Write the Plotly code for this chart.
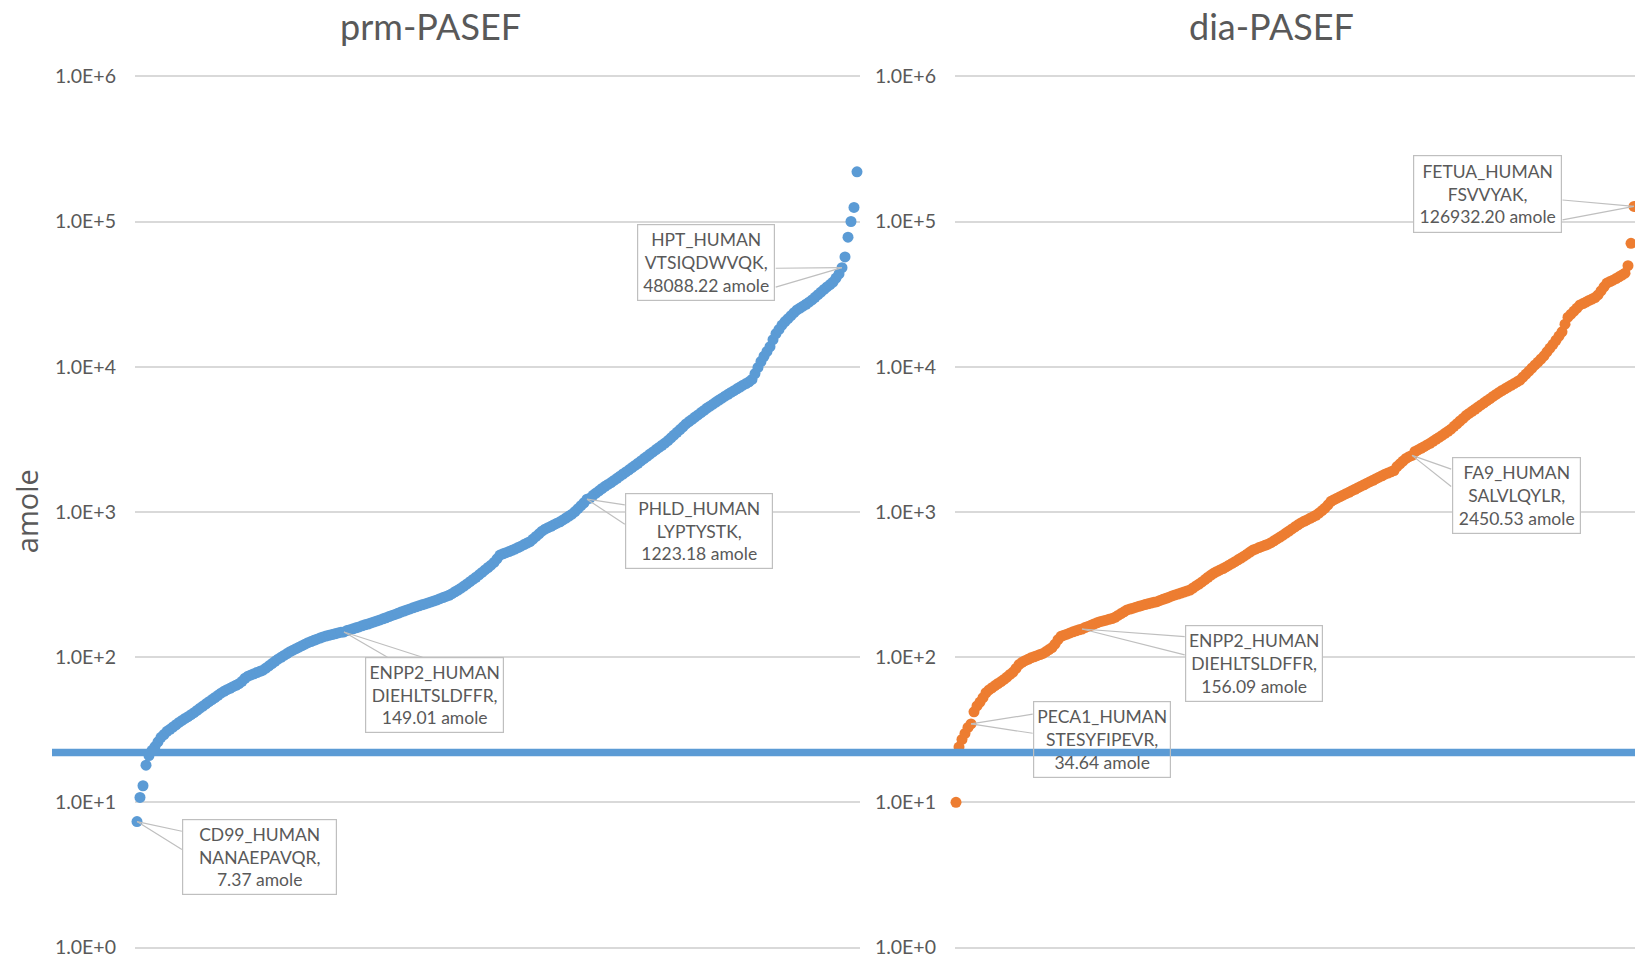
import math
import plotly.graph_objects as go

# ---------------- data ----------------
LEFT_TITLE = "prm-PASEF"
RIGHT_TITLE = "dia-PASEF"
Y_TITLE = "amole"
TICK_VALUES = [1, 10, 100, 1000, 10000, 100000, 1000000]
TICK_LABELS = ["1.0E+0", "1.0E+1", "1.0E+2", "1.0E+3", "1.0E+4", "1.0E+5", "1.0E+6"]
THRESHOLD_AMOLE = 22

# prm-PASEF, ranked peptide amounts (amole)
PRM_AMOLE = [
    7.37, 10.8, 13.0, 18.0, 21.0, 22.8, 24.2, 26.1, 28.0, 29.3,
    30.8, 31.8, 33.0, 34.2, 35.5, 36.6, 37.8, 38.9, 40.1, 41.4,
    42.9, 44.5, 46.0, 47.7, 49.3, 51.0, 52.7, 54.5, 56.4, 58.1,
    59.6, 61.0, 62.5, 64.0, 65.6, 68.1, 71.5, 73.9, 75.4, 76.8,
    78.3, 79.8, 81.3, 84.1, 87.1, 90.3, 93.6, 96.8, 99.6, 102.6,
    105.7, 108.9, 111.5, 114.2, 117.0, 119.9, 122.7, 125.6, 128.0, 130.4,
    132.8, 135.3, 137.8, 139.6, 141.3, 143.0, 144.7, 146.6, 148.3, 149.01,
    152.4, 154.5, 156.7, 159.2, 161.4, 164.1, 166.7, 169.0, 171.8, 174.6,
    177.4, 180.3, 183.6, 186.6, 190.1, 193.6, 196.8, 200.4, 204.2, 207.5,
    211.3, 214.8, 218.3, 221.8, 225.4, 229.1, 232.3, 236.0, 239.9, 243.8,
    247.7, 252.4, 257.0, 261.8, 266.7, 273.5, 281.8, 289.7, 298.5, 308.3,
    319.2, 330.4, 342.8, 354.8, 368.9, 382.8, 398.1, 414.0, 429.5, 448.7,
    475.3, 504.7, 514.0, 523.6, 533.3, 543.3, 554.6, 567.5, 580.8, 595.7,
    609.5, 623.7, 650.1, 677.6, 706.3, 736.2, 760.3, 778.0, 796.2, 816.6,
    835.6, 855.1, 881.0, 907.8, 935.4, 963.8, 1004.6, 1052, 1104, 1156,
    1223.18, 1242, 1300, 1349, 1396, 1449, 1500, 1545, 1592, 1648,
    1702, 1762, 1824, 1884, 1950, 2018, 2089, 2163, 2244, 2328,
    2410, 2500, 2588, 2685, 2780, 2877, 2979, 3097, 3236, 3381,
    3532, 3690, 3855, 4036, 4188, 4335, 4498, 4656, 4831, 5000,
    5188, 5346, 5521, 5702, 5888, 6067, 6266, 6457, 6653, 6839,
    7047, 7244, 7464, 7656, 7870, 8166, 8974, 9886, 10860, 11800,
    12740, 13740, 15350, 16900, 18070, 19360, 20460, 21430, 22440, 23550,
    24600, 25350, 26120, 26920, 27800, 28840, 30060, 31330, 32660, 34040,
    35400, 36810, 38280, 40740, 43550, 48088.22, 57000, 78000, 100000, 125000,
    220000,
]

# dia-PASEF, ranked peptide amounts (amole)
DIA_AMOLE = [
    10.0, 24.0, 27.1, 29.8, 32.8, 34.64, 42.0, 46.1, 49.0, 52.5,
    56.8, 59.4, 61.5, 63.7, 65.8, 67.8, 70.2, 72.9, 75.9, 78.9,
    83.6, 88.7, 92.0, 94.4, 96.6, 98.8, 100.5, 102.3, 104.2, 105.9,
    109.2, 112.7, 116.4, 122.7, 131.8, 139.0, 141.6, 143.9, 146.6, 149.3,
    151.7, 154.2, 156.09, 159.6, 162.6, 165.6, 169.0, 172.2, 175.4, 177.4,
    179.5, 182.0, 184.1, 187.9, 193.6, 199.5, 205.1, 211.3, 214.3, 217.3,
    220.8, 223.9, 227.0, 230.1, 232.8, 235.5, 238.2, 241.0, 245.5, 250.0,
    254.1, 258.8, 263.6, 267.9, 271.6, 276.1, 280.5, 285.1, 289.7, 299.2,
    309.0, 318.4, 329.6, 342.0, 354.8, 367.3, 379.3, 389.0, 398.1, 407.4,
    417.8, 429.5, 441.6, 453.9, 467.7, 480.8, 495.5, 511.7, 528.4, 545.8,
    555.9, 567.5, 578.1, 588.8, 599.8, 613.8, 632.4, 651.6, 671.4, 691.8,
    714.5, 737.9, 763.8, 788.9, 814.7, 839.5, 861.0, 881.0, 903.6, 924.7,
    948.4, 981.7, 1021, 1062, 1119, 1183, 1213, 1242, 1274, 1303,
    1334, 1365, 1400, 1432, 1469, 1503, 1538, 1578, 1614, 1652,
    1694, 1734, 1774, 1820, 1853, 1888, 1928, 2051, 2143, 2239,
    2333, 2400, 2450.53, 2606, 2673, 2742, 2812, 2891, 2965, 3062,
    3162, 3258, 3365, 3475, 3589, 3715, 3882, 4046, 4227, 4406,
    4603, 4764, 4932, 5093, 5272, 5458, 5636, 5834, 6026, 6237,
    6442, 6653, 6855, 7047, 7244, 7447, 7656, 7870, 8091, 8492,
    8892, 9333, 9795, 10280, 10770, 11300, 11890, 12650, 13430, 14260,
    15210, 16250, 17380, 19630, 21930, 23010, 24150, 25350, 26610, 27230,
    27860, 28580, 29240, 29920, 31190, 33270, 35480, 37670, 38550, 39450,
    40460, 41590, 42760, 44060, 49660, 70800, 126932.20,
]

# labelled peptides
CALLOUT_SERIES = ["prm", "prm", "prm", "prm", "dia", "dia", "dia", "dia"]
CALLOUT_RANK = [0, 69, 150, 235, 5, 42, 152, 226]
CALLOUT_PROTEIN = ["CD99_HUMAN", "ENPP2_HUMAN", "PHLD_HUMAN", "HPT_HUMAN",
                   "PECA1_HUMAN", "ENPP2_HUMAN", "FA9_HUMAN", "FETUA_HUMAN"]
CALLOUT_PEPTIDE = ["NANAEPAVQR", "DIEHLTSLDFFR", "LYPTYSTK", "VTSIQDWVQK",
                   "STESYFIPEVR", "DIEHLTSLDFFR", "SALVLQYLR", "FSVVYAK"]

# ---------------- styling / layout ----------------
W, H = 1635, 957
FONT = "Lato, 'Open Sans', sans-serif"
TXT = "#595959"
BLUE = "#5B9BD5"
ORANGE = "#ED7D31"
GRID = "#D9D9D9"
CALL_LINE = "#BFBFBF"

# box centre offset (px), box size (px), wedge base points (px) for each callout
CALLOUT_GEOM = [
    dict(box=(122.9, 35.8), size=(155, 76), wedge=[(45.4, 9.8), (45.4, 28.2)]),
    dict(box=(90.7, 63.5), size=(139, 76), wedge=[(44, 25.5), (79, 25.5)]),
    dict(box=(112.3, 32.0), size=(148, 76), wedge=[(38.3, 5.8), (38.3, 25.5)]),
    dict(box=(-135.8, -5.3), size=(138, 77), wedge=[(-66.8, 0.6), (-66.8, 19.6)]),
    dict(box=(131.2, 15.3), size=(138, 77), wedge=[(62.2, -9.9), (62.2, 9.4)]),
    dict(box=(172.2, 34.0), size=(138, 77), wedge=[(103.2, 7.7), (103.2, 26.0)]),
    dict(box=(104.2, 39.8), size=(129, 77), wedge=[(39.7, 13.9), (39.7, 31.6)]),
    dict(box=(-146.5, -12.6), size=(149, 78), wedge=[(-72.0, -6.5), (-72.0, 13.5)]),
]

fig = go.Figure()
fig.add_trace(go.Scatter(
    x=list(range(len(PRM_AMOLE))), y=PRM_AMOLE, mode="markers",
    marker=dict(size=11, color=BLUE, line=dict(width=0)),
    xaxis="x", yaxis="y", cliponaxis=False, hoverinfo="skip", name=LEFT_TITLE))
fig.add_trace(go.Scatter(
    x=list(range(len(DIA_AMOLE))), y=DIA_AMOLE, mode="markers",
    marker=dict(size=11, color=ORANGE, line=dict(width=0)),
    xaxis="x2", yaxis="y2", cliponaxis=False, hoverinfo="skip", name=RIGHT_TITLE))

# 1 decade = 145.2 px; 1E+0 at 947.5 px from the top, 1E+6 at 76.3 px
PAD = 0.03  # decades of padding so the end gridlines are drawn
DEC = 145.2
y_dom = [(H - 947.5 - PAD * DEC) / H, (H - 76.3 + PAD * DEC) / H]
yax = dict(type="log", range=[-PAD, 6 + PAD], domain=y_dom, tickmode="array",
           tickvals=TICK_VALUES, ticktext=TICK_LABELS, showgrid=True,
           gridcolor=GRID, gridwidth=1.5, zeroline=False, showline=False,
           ticks="", ticklabelstandoff=18, automargin=False,
           ticklabeloverflow="allow",
           tickfont=dict(family=FONT, size=19.5, color=TXT))
xax = dict(showgrid=False, zeroline=False, showline=False, showticklabels=False,
           ticks="", automargin=False)

fig.update_layout(
    width=W, height=H, margin=dict(l=0, r=0, t=0, b=0, pad=0, autoexpand=False),
    paper_bgcolor="white", plot_bgcolor="white", showlegend=False,
    xaxis=dict(xax, domain=[135 / W, 860 / W], range=[-2 / 3, len(PRM_AMOLE)]),
    xaxis2=dict(xax, domain=[955 / W, 1.0], range=[-1 / 3, len(DIA_AMOLE) - 2 / 3]),
    yaxis=dict(yax, anchor="x"),
    yaxis2=dict(yax, anchor="x2"),
)

# threshold line
fig.add_shape(type="line", xref="paper", yref="y", x0=52 / W, x1=1.0,
              y0=THRESHOLD_AMOLE, y1=THRESHOLD_AMOLE,
              line=dict(color=BLUE, width=7.5), layer="above")

# titles
fig.add_annotation(text=LEFT_TITLE, xref="paper", yref="paper", x=431 / W, y=1 - 26 / H,
                   showarrow=False, xanchor="center", yanchor="middle",
                   font=dict(family=FONT, size=36, color=TXT))
fig.add_annotation(text=RIGHT_TITLE, xref="paper", yref="paper", x=1271.5 / W, y=1 - 26 / H,
                   showarrow=False, xanchor="center", yanchor="middle",
                   font=dict(family=FONT, size=36, color=TXT))
fig.add_annotation(text=Y_TITLE, xref="paper", yref="paper", x=26.7 / W, y=1 - 511.5 / H,
                   showarrow=False, xanchor="center", yanchor="middle", textangle=-90,
                   font=dict(family="'Open Sans', sans-serif", size=29, color=TXT))

# callouts
for k, series in enumerate(CALLOUT_SERIES):
    vals = PRM_AMOLE if series == "prm" else DIA_AMOLE
    xr, yr = ("x", "y") if series == "prm" else ("x2", "y2")
    idx = CALLOUT_RANK[k]
    v = vals[idx]
    ylog = math.log10(v)
    g = CALLOUT_GEOM[k]
    for (wx, wy) in g["wedge"]:
        fig.add_annotation(x=idx, y=ylog, xref=xr, yref=yr, text="", showarrow=True,
                           ax=wx, ay=wy, axref="pixel", ayref="pixel",
                           arrowhead=0, arrowwidth=1.2, arrowcolor=CALL_LINE,
                           standoff=0, startstandoff=0, borderpad=0)
    label = f"{CALLOUT_PROTEIN[k]}<br>{CALLOUT_PEPTIDE[k]},<br>{v:.2f} amole"
    bw, bh = g["size"]
    fig.add_annotation(x=idx, y=ylog, xref=xr, yref=yr, text=label, showarrow=False,
                       xshift=g["box"][0], yshift=-g["box"][1],
                       xanchor="center", yanchor="middle",
                       width=bw - 2, height=bh - 2, borderpad=0, borderwidth=1.2,
                       bordercolor=CALL_LINE,
                       bgcolor="rgba(255,255,255,0)" if CALLOUT_PROTEIN[k] == "PECA1_HUMAN" else "white",
                       font=dict(family=FONT, size=17.5, color=TXT))

fig.write_html(
    "out.html",
    config={"displayModeBar": False},
    post_script="document.body.style.margin='0';document.body.style.padding='0';"
                "document.body.style.overflow='hidden';",
)
